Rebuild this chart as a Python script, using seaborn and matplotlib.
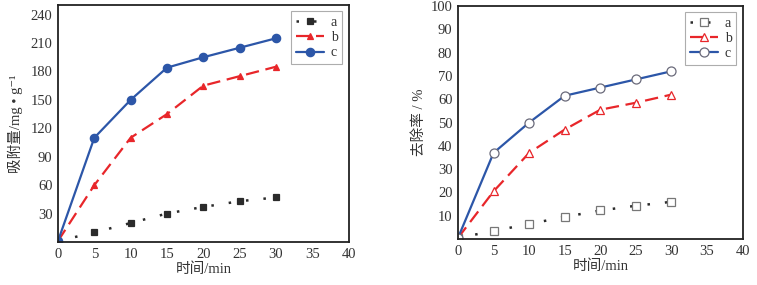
import matplotlib
matplotlib.use("Agg")
import matplotlib.pyplot as plt
from matplotlib.ticker import MultipleLocator
import seaborn as sns
import pandas as pd

sns.set_theme(style="white")
plt.rcParams['font.family'] = ['Liberation Serif', 'Noto Sans CJK SC', 'DejaVu Sans']

time = [0, 5, 10, 15, 20, 25, 30]
series = ["a", "b", "c"]
ads_a = [1, 10, 20, 30, 37, 43, 47]
ads_b = [1, 60, 110, 135, 165, 175, 185]
ads_c = [1, 110, 150, 184, 195, 205, 215]
rem_a = [0.5, 3.5, 6.5, 9.5, 12.3, 14.3, 16]
rem_b = [0.5, 20.5, 37, 47, 55.5, 58.5, 62]
rem_c = [0.5, 37, 50, 61.5, 65, 68.5, 72]

xlabel = "时间/min"
ylabel_left = "吸附量/mg • g⁻¹"
ylabel_right = "去除率 / %"

colors = {"a": "#2b2b2b", "b": "#e8262a", "c": "#2c56a8"}
dashes = {"a": (0, (1, 6)), "b": (0, (6, 3)), "c": "-"}
markers = {"a": "s", "b": "^", "c": "o"}

fig = plt.figure(figsize=(7.57, 2.85), dpi=100)
ax1 = fig.add_axes([0.0766, 0.151, 0.384, 0.831])
ax2 = fig.add_axes([0.605, 0.161, 0.376, 0.818])

def make_df(a, b, c):
    rows = []
    for name, vals in zip(series, [a, b, c]):
        for t, v in zip(time, vals):
            rows.append({"t": t, "v": v, "s": name})
    return pd.DataFrame(rows)

df1 = make_df(ads_a, ads_b, ads_c)
df2 = make_df(rem_a, rem_b, rem_c)

for ax, df, filled in [(ax1, df1, True), (ax2, df2, False)]:
    for s in series:
        sub = df[df.s == s]
        col = colors[s]
        if filled:
            ms = {"a": 4.5, "b": 5, "c": 6}[s]
            mfc, mec = col, col
        else:
            ms = {"a": 6, "b": 6, "c": 6.5}[s]
            mfc = "white"
            mec = {"a": "#777777", "b": "#e8262a", "c": "#6a6a7a"}[s]
        sns.lineplot(data=sub, x="t", y="v", ax=ax, color=col,
                     linestyle=dashes[s], linewidth=1.6 if s != "a" else 1.8,
                     marker=markers[s], markersize=ms,
                     markerfacecolor=mfc, markeredgecolor=mec,
                     markeredgewidth=0.9, label=s, legend=False)
    ax.set_xlim(0, 40)
    ax.xaxis.set_major_locator(MultipleLocator(5))
    ax.xaxis.set_minor_locator(MultipleLocator(2.5))
    for sp in ax.spines.values():
        sp.set_color("#222222")
        sp.set_linewidth(1.3)
    ax.tick_params(which="both", direction="in", top=False, right=False,
                   colors="#222222", labelsize=10.5, labelcolor="#333333")
    ax.tick_params(which="major", length=4, width=1, pad=4)
    ax.tick_params(which="minor", length=2.5, width=0.8)
    ax.set_xlabel(xlabel, fontsize=10.5, color="#333333", labelpad=1)
    leg = ax.legend(loc="upper right", fontsize=10, frameon=True, fancybox=False,
                    handlelength=2.0, handletextpad=0.5, borderpad=0.35,
                    labelspacing=0.15, borderaxespad=0.45)
    leg.get_frame().set_edgecolor("#999999")
    leg.get_frame().set_linewidth(0.8)
    for t in leg.get_texts():
        t.set_color("#333333")

ax1.set_ylim(0, 250)
ax1.yaxis.set_minor_locator(MultipleLocator(15))
ax1.set_yticks([30, 60, 90, 120, 150, 180, 210, 240])
ax1.set_ylabel(ylabel_left, fontsize=10.5, color="#333333", labelpad=5)

ax2.set_ylim(0, 100)
ax2.yaxis.set_minor_locator(MultipleLocator(5))
ax2.set_yticks([10, 20, 30, 40, 50, 60, 70, 80, 90, 100])
ax2.set_ylabel(ylabel_right, fontsize=10.5, color="#333333", labelpad=3)

fig.savefig("out.png", dpi=100, facecolor="white")
